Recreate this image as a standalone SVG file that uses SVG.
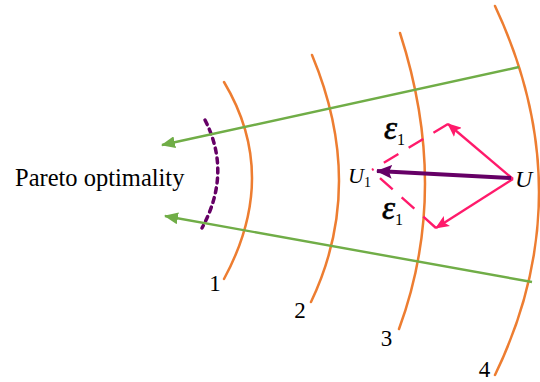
<svg xmlns="http://www.w3.org/2000/svg" width="540" height="382" viewBox="0 0 540 382">
<style>
.arc{fill:none;stroke:#ED7D31;stroke-width:2.5;stroke-linecap:round}
.grn{fill:none;stroke:#70AD47;stroke-width:2.4}
.pink{fill:none;stroke:#FF1A6B;stroke-width:2.4}
.dash{fill:none;stroke:#FF1A6B;stroke-width:2.4;stroke-dasharray:17 12}
.pur{fill:none;stroke:#660066;stroke-width:4}
.dot{fill:none;stroke:#660066;stroke-width:3.5;stroke-dasharray:5 5;stroke-linecap:round}
.t{font-family:"Liberation Serif","Times New Roman",serif;fill:#000}
.it{font-style:italic}
</style>
<defs>
<marker id="ag" markerUnits="userSpaceOnUse" viewBox="0 0 14 12" refX="13" refY="6" markerWidth="14" markerHeight="12" orient="auto">
<path d="M0,0 L14,6 L0,12 Z" fill="#70AD47"/>
</marker>
<marker id="ap" markerUnits="userSpaceOnUse" viewBox="0 0 14 12" refX="13" refY="6" markerWidth="14" markerHeight="12" orient="auto">
<path d="M0,0 L14,6 L0,12 L3,6 Z" fill="#FF1A6B"/>
</marker>
<marker id="au" markerUnits="userSpaceOnUse" viewBox="0 0 16 14" refX="15" refY="7" markerWidth="16" markerHeight="14" orient="auto">
<path d="M0,0 L16,7 L0,14 L3,7 Z" fill="#660066"/>
</marker>
</defs>
<g id="arcs">
<g id="arc1"><path class="arc" d="M224,82 Q280,175.5 224,279"/><text class="t" x="215" y="291" font-size="23" text-anchor="middle">1</text></g>
<g id="arc2"><path class="arc" d="M312,55 Q366.5,185.5 311,302"/><text class="t" x="300" y="318" font-size="23" text-anchor="middle">2</text></g>
<g id="arc3"><path class="arc" d="M400,33 Q450.5,189 399,329"/><text class="t" x="386.5" y="346" font-size="23" text-anchor="middle">3</text></g>
<g id="arc4"><path class="arc" d="M495,6 Q583,193.5 495,375"/><text class="t" x="484.5" y="377" font-size="23" text-anchor="middle">4</text></g>
</g>
<g id="pareto">
<path class="dot" d="M205,120 Q232,173 202,228"/>
<text class="t" x="15" y="186" font-size="24.5">Pareto optimality</text>
</g>
<g id="connectors">
<line class="grn" x1="519" y1="67" x2="162" y2="145" marker-end="url(#ag)"/>
<line class="grn" x1="532" y1="282" x2="165" y2="216" marker-end="url(#ag)"/>
<line class="pink" x1="513" y1="179" x2="448" y2="124" marker-end="url(#ap)"/>
<line class="pink" x1="513" y1="179" x2="436" y2="228" marker-end="url(#ap)"/>
<line class="dash" x1="448" y1="124" x2="372" y2="170"/>
<line class="dash" x1="436" y1="228" x2="372" y2="171"/>
<line class="pur" x1="511" y1="178" x2="377" y2="171" marker-end="url(#au)"/>
</g>
<g id="U"><text class="t it" x="515" y="187" font-size="24">U</text></g>
<g id="U1"><text class="t it" x="348" y="183" font-size="22">U<tspan font-style="normal" font-size="14" dy="4">1</tspan></text></g>
<g id="eps1"><text class="t it" x="384" y="139" font-size="33" stroke="#000" stroke-width="0.6">ε<tspan font-style="normal" font-size="16" dy="6" stroke="none">1</tspan></text></g>
<g id="eps2"><text class="t it" x="382" y="219" font-size="33" stroke="#000" stroke-width="0.6">ε<tspan font-style="normal" font-size="16" dy="6" stroke="none">1</tspan></text></g>
</svg>
